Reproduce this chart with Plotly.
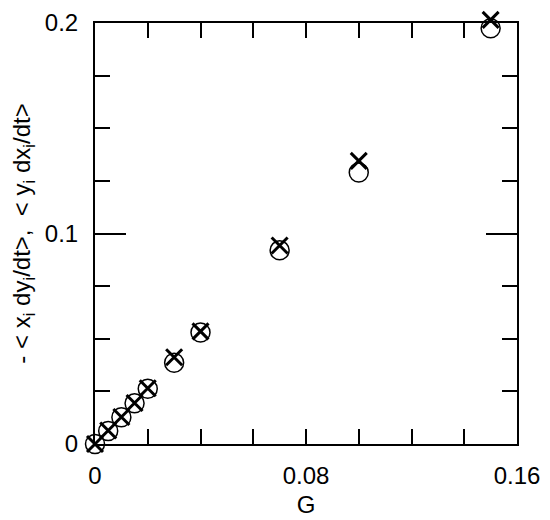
import plotly.graph_objects as go

# coupling strength G
G = [0, 0.005, 0.01, 0.015, 0.02, 0.03, 0.04, 0.07, 0.1, 0.15]
# -<x_i dy_i/dt>  (open circles)
xdy = [0, 0.0062, 0.0127, 0.0193, 0.0262, 0.0386, 0.0530, 0.0920, 0.129, 0.1975]
# <y_i dx_i/dt>  (crosses)
ydx = [0, 0.0064, 0.0128, 0.0195, 0.0265, 0.0412, 0.0535, 0.0943, 0.1345, 0.2015]

xr = [0, 0.16]
yr = [0, 0.2]

# page body has an 8px margin, so figure coords are page coords minus 8
W, H = 542, 512
ml, mr, mt, mb = 72, 12, 2, 56
fx0, fx1 = 87, 509      # frame left/right px
fy0, fy1 = 15, 436      # frame top/bottom px
pw, ph = W - ml - mr, H - mt - mb

# outer (invisible) axes carry the markers so points just past the frame still show
dom_x = [(fx0 - ml) / pw, (fx1 - ml) / pw]
dom_y = [(H - mb - fy1) / ph, (H - mb - fy0) / ph]
sx = (xr[1] - xr[0]) / (fx1 - fx0)
sy = (yr[1] - yr[0]) / (fy1 - fy0)
data_xr = [xr[0] - (fx0 - ml) * sx, xr[1] + (W - mr - fx1) * sx]
data_yr = [yr[0] - (H - mb - fy1) * sy, yr[1] + (fy0 - mt) * sy]

fig = go.Figure()
fig.add_trace(go.Scatter(x=G, y=xdy, mode="markers",
                         marker=dict(symbol="circle-open", size=19, color="black",
                                     line=dict(width=1.5, color="black"))))
fig.add_trace(go.Scatter(x=G, y=ydx, mode="markers",
                         marker=dict(symbol="x-thin-open", size=16, color="black",
                                     line=dict(width=3, color="black"))))
fig.add_trace(go.Scatter(x=[], y=[], xaxis="x2", yaxis="y2", hoverinfo="skip"))

axis_common = dict(showgrid=False, zeroline=False, showline=True, linecolor="black",
                   linewidth=2, mirror="allticks", ticks="inside", tickcolor="black",
                   tickwidth=2, tickfont=dict(size=24, color="black"), automargin=False)

fig.update_layout(
    width=W, height=H, showlegend=False,
    plot_bgcolor="rgba(0,0,0,0)", paper_bgcolor="white",
    font=dict(family="Liberation Sans, Arial, sans-serif", color="black"),
    margin=dict(l=ml, r=mr, t=mt, b=mb),
    xaxis=dict(range=data_xr, visible=False, fixedrange=True),
    yaxis=dict(range=data_yr, visible=False, fixedrange=True),
    xaxis2=dict(range=xr, domain=dom_x, anchor="y2", tick0=0, dtick=0.08, ticklen=15,
                ticklabelstandoff=9,
                minor=dict(dtick=0.02, ticklen=15, ticks="inside", tickcolor="black", tickwidth=2),
                title=dict(text="G", font=dict(size=24, color="black"), standoff=8),
                **axis_common),
    yaxis2=dict(range=yr, domain=dom_y, anchor="x2", tick0=0, dtick=0.1, ticklen=31,
                ticklabelstandoff=10,
                minor=dict(dtick=0.025, ticklen=15, ticks="inside", tickcolor="black", tickwidth=2),
                title=dict(text="- &lt; x<sub>i</sub> dy<sub>i</sub>/dt&gt;,  &lt; y<sub>i</sub> dx<sub>i</sub>/dt&gt;",
                           font=dict(size=24, color="black"), standoff=18),
                **axis_common),
)

fig.write_html("out.html")
